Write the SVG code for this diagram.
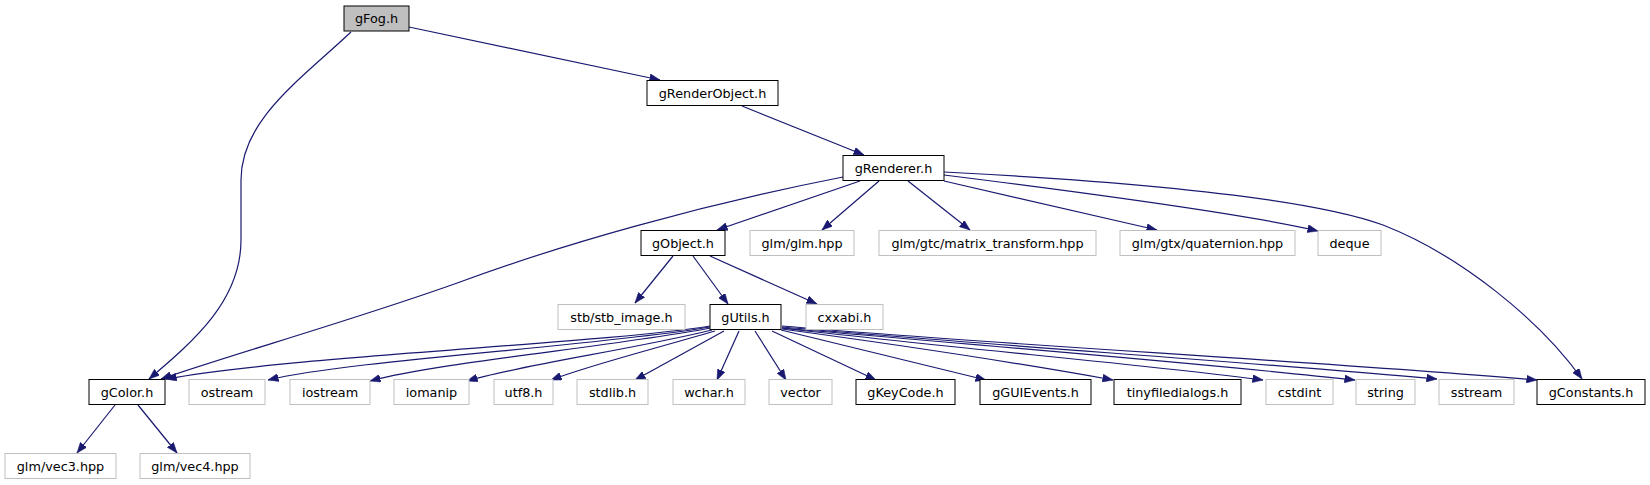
<svg xmlns="http://www.w3.org/2000/svg" width="1650" height="485" viewBox="0 0 1650 485">
<style>
.n rect{fill:#fff;stroke:#000;stroke-width:1}
.g rect{fill:#fff;stroke:#bfbfbf;stroke-width:1}
.root rect{fill:#bfbfbf;stroke:#000;stroke-width:1}
text{font-family:"DejaVu Sans","Liberation Sans",sans-serif;font-size:12.8px;fill:#000;text-anchor:middle}
#edges path{fill:none;stroke:#191970;stroke-width:1.2;marker-end:url(#ah)}
</style>
<defs>
<marker id="ah" markerUnits="userSpaceOnUse" markerWidth="11" markerHeight="8" refX="10.5" refY="4" orient="auto">
<path d="M0,0 L10.5,4 L0,8 z" fill="#191970" stroke="#191970" stroke-width="0.5"/>
</marker>
</defs>
<rect width="1650" height="485" fill="#fff"/>
<g id="edges">
<path d="M409,27 L660,80"/>
<path d="M351,32 C300,80 241,120 241,180 L241,240 C241,300 195,340 149,379"/>
<path d="M742,106 L864,155"/>
<path d="M860,181 L717,230"/>
<path d="M879,181 L822,230"/>
<path d="M908,181 L970,230"/>
<path d="M944,181 L1157,230"/>
<path d="M944,175 C1080,192 1250,215 1318,231"/>
<path d="M944,172 C1100,180 1300,195 1383,225 C1460,255 1540,320 1582,379"/>
<path d="M843,177 C700,205 560,245 460,282 C360,318 230,355 161,379"/>
<path d="M673,256 L635,303"/>
<path d="M693,256 L728,304"/>
<path d="M710,256 L817,304"/>
<path d="M710,326 C600,344 300,355 166,379"/>
<path d="M710,327 C600,346 350,360 268,380"/>
<path d="M711,328 C610,347 440,362 370,381"/>
<path d="M712,330 C630,350 520,365 467,381"/>
<path d="M715,331 C650,350 590,365 551,380"/>
<path d="M724,331 L635,380"/>
<path d="M739,331 L717,380"/>
<path d="M755,331 L786,380"/>
<path d="M772,331 L876,380"/>
<path d="M781,330 L986,380"/>
<path d="M782,329 C900,345 1030,365 1113,380"/>
<path d="M782,328 C950,348 1150,365 1263,380"/>
<path d="M782,328 C1000,347 1200,363 1355,380"/>
<path d="M782,327 C1000,346 1250,362 1437,379"/>
<path d="M782,326 C1000,345 1300,360 1537,380"/>
<path d="M115,405 L77,453"/>
<path d="M138,405 L177,453"/>
</g>
<g id="gFog" class="root"><rect x="344" y="6" width="65" height="25"/><text x="376.5" y="23">gFog.h</text></g>
<g id="gRenderObject" class="n"><rect x="647" y="80.5" width="131" height="25"/><text x="712.5" y="97.5">gRenderObject.h</text></g>
<g id="gRenderer" class="n"><rect x="843" y="155.5" width="101" height="25"/><text x="893.5" y="172.5">gRenderer.h</text></g>
<g id="gObject" class="n"><rect x="641" y="230.5" width="84" height="25"/><text x="683" y="247.5">gObject.h</text></g>
<g id="glm_glm" class="g"><rect x="750" y="230.5" width="104" height="25"/><text x="802" y="247.5">glm/glm.hpp</text></g>
<g id="glm_matrix" class="g"><rect x="879" y="230.5" width="217" height="25"/><text x="987.5" y="247.5">glm/gtc/matrix_transform.hpp</text></g>
<g id="glm_quat" class="g"><rect x="1120" y="230.5" width="175" height="25"/><text x="1207.5" y="247.5">glm/gtx/quaternion.hpp</text></g>
<g id="deque" class="g"><rect x="1318" y="230.5" width="63" height="25"/><text x="1349.5" y="247.5">deque</text></g>
<g id="stb_image" class="g"><rect x="558" y="304.5" width="127" height="25"/><text x="621.5" y="321.5">stb/stb_image.h</text></g>
<g id="gUtils" class="n"><rect x="710" y="304.5" width="71" height="25"/><text x="745.5" y="321.5">gUtils.h</text></g>
<g id="cxxabi" class="g"><rect x="806" y="304.5" width="77" height="25"/><text x="844.5" y="321.5">cxxabi.h</text></g>
<g id="gColor" class="n"><rect x="89" y="379.5" width="76" height="25"/><text x="127" y="396.5">gColor.h</text></g>
<g id="ostream" class="g"><rect x="189" y="379.5" width="76" height="25"/><text x="227" y="396.5">ostream</text></g>
<g id="iostream" class="g"><rect x="290" y="379.5" width="80" height="25"/><text x="330" y="396.5">iostream</text></g>
<g id="iomanip" class="g"><rect x="394" y="379.5" width="75" height="25"/><text x="431.5" y="396.5">iomanip</text></g>
<g id="utf8" class="g"><rect x="494" y="379.5" width="59" height="25"/><text x="523.5" y="396.5">utf8.h</text></g>
<g id="stdlib" class="g"><rect x="577" y="379.5" width="71" height="25"/><text x="612.5" y="396.5">stdlib.h</text></g>
<g id="wchar" class="g"><rect x="673" y="379.5" width="72" height="25"/><text x="709" y="396.5">wchar.h</text></g>
<g id="vector" class="g"><rect x="769" y="379.5" width="63" height="25"/><text x="800.5" y="396.5">vector</text></g>
<g id="gKeyCode" class="n"><rect x="856" y="379.5" width="99" height="25"/><text x="905.5" y="396.5">gKeyCode.h</text></g>
<g id="gGUIEvents" class="n"><rect x="980" y="379.5" width="111" height="25"/><text x="1035.5" y="396.5">gGUIEvents.h</text></g>
<g id="tinyfiledialogs" class="n"><rect x="1114" y="379.5" width="127" height="25"/><text x="1177.5" y="396.5">tinyfiledialogs.h</text></g>
<g id="cstdint" class="g"><rect x="1266" y="379.5" width="67" height="25"/><text x="1299.5" y="396.5">cstdint</text></g>
<g id="string" class="g"><rect x="1356" y="379.5" width="59" height="25"/><text x="1385.5" y="396.5">string</text></g>
<g id="sstream" class="g"><rect x="1439" y="379.5" width="75" height="25"/><text x="1476.5" y="396.5">sstream</text></g>
<g id="gConstants" class="n"><rect x="1537" y="379.5" width="108" height="25"/><text x="1591" y="396.5">gConstants.h</text></g>
<g id="glm_vec3" class="g"><rect x="5" y="453.5" width="111" height="25"/><text x="60.5" y="470.5">glm/vec3.hpp</text></g>
<g id="glm_vec4" class="g"><rect x="140" y="453.5" width="110" height="25"/><text x="195" y="470.5">glm/vec4.hpp</text></g>
</svg>
